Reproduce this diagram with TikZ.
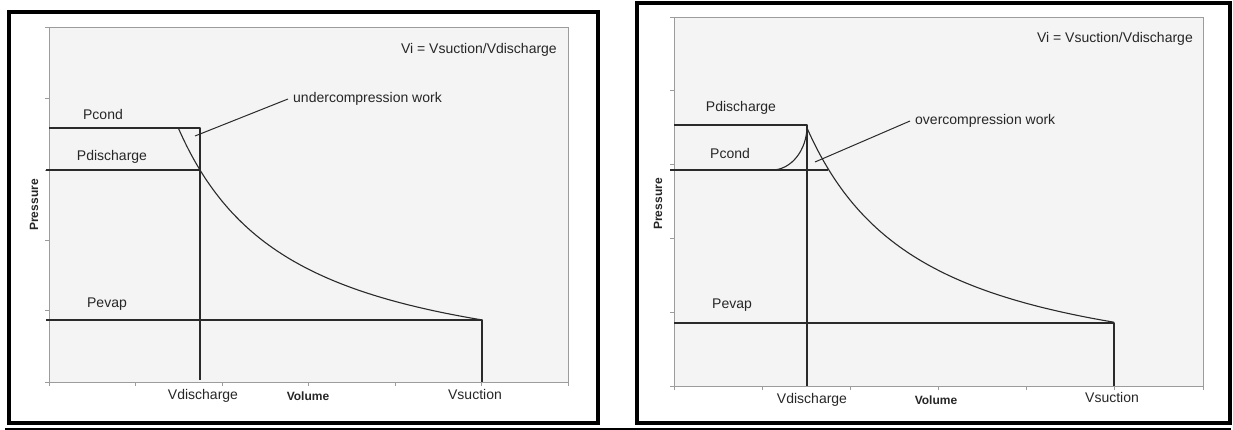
\documentclass[tikz,border=0pt]{standalone}
\usepackage{fontspec}
\setmainfont{Liberation Sans}
\definecolor{plotbg}{HTML}{F4F4F4}
\definecolor{axisgray}{HTML}{9C9C9C}
\definecolor{ink}{HTML}{2A2A2A}
\definecolor{txt}{HTML}{262626}
\begin{document}
\begin{tikzpicture}[x=1pt,y=-1pt,
  panelframe/.style={draw=black,line width=4pt},
  plotarea/.style={draw=axisgray,fill=plotbg,line width=0.9pt},
  tickmark/.style={draw=axisgray,line width=0.9pt},
  dataline/.style={draw=ink,line width=1.1pt,line join=round},
  leader/.style={draw=ink,line width=1pt},
  lbl/.style={text=txt,font=\fontsize{14}{16}\selectfont,inner sep=2pt},
  axlbl/.style={text=txt,font=\fontsize{12}{14}\selectfont\bfseries,inner sep=1pt}]
\useasboundingbox (0,0) rectangle (1233,430);

% ---------- left: undercompression ----------
\draw[panelframe] (8.7,12) rectangle (597.5,423.3);
\draw[plotarea] (49,27) rectangle (568,382);
\foreach \y in {27,98,170,240,310,382} \draw[tickmark] (45,\y) -- (49,\y);
\foreach \x in {49,135.5,222,308.5,395,481.5,568} \draw[tickmark] (\x,382) -- (\x,386);

\draw[dataline] (49,128) -- (200,128) -- (200,380);
\draw[dataline] (46,170) -- (200,170);
\draw[dataline] (46,320) -- (482,320) -- (482,382);
\draw[dataline] plot[domain=178:482,samples=90,smooth] (\x,{382-212*(151/(\x-49))^1.166});

\node[lbl] (lpcond) at (103,114) {Pcond};
\node[lbl] (lpdis) at (112,157) {Pdischarge};
\node[lbl] (lpevap) at (107,304) {Pevap};
\node[lbl] (lvdis) at (203,396) {Vdischarge};
\node[lbl] (lvsuc) at (475,394) {Vsuction};
\node[axlbl] (lvol) at (308,396) {Volume};
\node[axlbl,rotate=90] (lpres) at (34,205) {Pressure};
\node[lbl,anchor=east] (lvi) at (559,50) {Vi = Vsuction/Vdischarge};
\node[lbl,anchor=west,inner xsep=5pt] (luw) at (288,99) {undercompression work};
\coordinate (luwpt) at (195,136);
\draw[leader] (luwpt) -- (luw.west);

% ---------- right: overcompression ----------
\draw[panelframe] (636.7,3) rectangle (1229.5,423);
\draw[plotarea] (674,17) rectangle (1203,386);
\foreach \y in {17,90.8,164.6,238.4,312.2,386} \draw[tickmark] (670,\y) -- (674,\y);
\foreach \x in {674,762.2,850.3,938.5,1026.7,1114.8,1203} \draw[tickmark] (\x,386) -- (\x,390);

\draw[dataline] (674,125) -- (807,125) -- (807,386);
\draw[dataline] (670,170) -- (828,170);
\draw[dataline] (674,323) -- (1114,323) -- (1114,386);
\draw[dataline] plot[domain=807:1114,samples=90,smooth] (\x,{386-258*(133/(\x-674))^1.168});
\draw[dataline] (769,170) -- (772,170) .. controls (791.3,170) and (807,150) .. (807,126);

\node[lbl] (rpdis) at (741,108) {Pdischarge};
\node[lbl] (rpcond) at (730,153) {Pcond};
\node[lbl] (rpevap) at (732,305) {Pevap};
\node[lbl] (rvdis) at (812,400) {Vdischarge};
\node[lbl] (rvsuc) at (1112,397) {Vsuction};
\node[axlbl] (rvol) at (936,400) {Volume};
\node[axlbl,rotate=90] (rpres) at (658,204) {Pressure};
\node[lbl,anchor=east] (rvi) at (1195,39) {Vi = Vsuction/Vdischarge};
\node[lbl,anchor=west,inner xsep=5pt] (row) at (910,121) {overcompression work};
\coordinate (rowpt) at (815,162);
\draw[leader] (rowpt) -- (row.west);

% rule along the bottom edge
\draw[black,line width=2.2pt] (5,428.8) -- (1231,428.8);
\end{tikzpicture}
\end{document}
